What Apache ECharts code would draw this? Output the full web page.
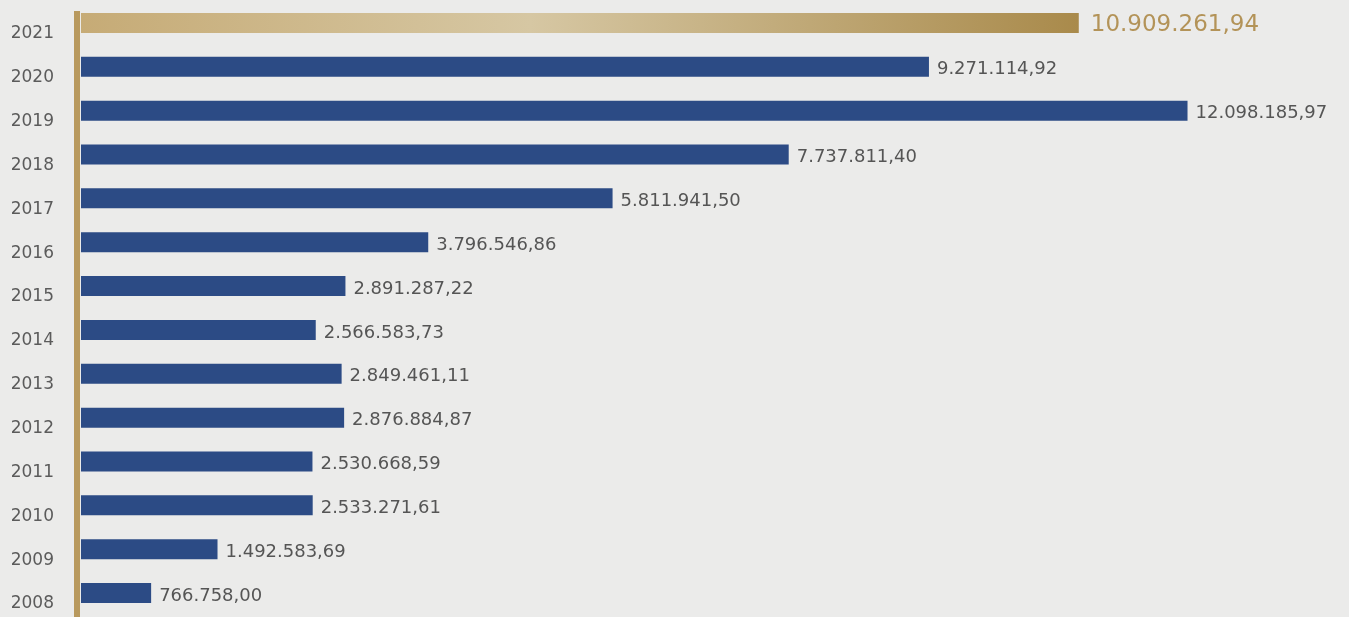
<!DOCTYPE html>
<html>
<head>
<meta charset="utf-8">
<script src="https://cdn.jsdelivr.net/npm/echarts@6/dist/echarts.min.js"></script>
<style>
  html, body { margin: 0; padding: 0; background: #ebebea; }
  #chart { width: 1349px; height: 617px; }
</style>
</head>
<body>
<div id="chart"></div>
<script>
// Yearly totals, newest year first
const years = ['2021', '2020', '2019', '2018', '2017', '2016', '2015', '2014', '2013', '2012', '2011', '2010', '2009', '2008'];
const totals = [10909261.94, 9271114.92, 12098185.97, 7737811.40, 5811941.50, 3796546.86, 2891287.22, 2566583.73, 2849461.11, 2876884.87, 2530668.59, 2533271.61, 1492583.69, 766758.00];
const highlightYear = '2021';

// 10909261.94 -> "10.909.261,94"
function formatAmount(v) {
  const parts = v.toFixed(2).split('.');
  const whole = parts[0].replace(/\B(?=(\d{3})+(?!\d))/g, '.');
  return whole + ',' + parts[1];
}

const goldGradient = new echarts.graphic.LinearGradient(0, 0, 1, 0, [
  { offset: 0, color: '#c6ab76' },
  { offset: 0.45, color: '#d6c7a3' },
  { offset: 1, color: '#a98a4b' }
]);

const barData = years.map((y, i) => {
  if (y === highlightYear) {
    return {
      value: totals[i],
      itemStyle: { color: goldGradient },
      label: { fontSize: 23, color: '#b39358', distance: 12, offset: [0, 2] }
    };
  }
  return { value: totals[i] };
});

const chart = echarts.init(document.getElementById('chart'));
chart.setOption({
  backgroundColor: '#ebebea',
  animation: false,
  grid: { left: 81, right: 79, top: 1, bottom: 2, containLabel: false },
  xAxis: {
    type: 'value',
    min: 0,
    max: 13000000,
    show: false
  },
  yAxis: {
    type: 'category',
    data: years,
    inverse: true,
    axisLine: { show: false },
    axisTick: { show: false },
    axisLabel: {
      margin: 27,
      fontFamily: 'DejaVu Sans',
      fontSize: 17,
      color: '#5b5b5b',
      verticalAlign: 'top',
      lineHeight: 22
    }
  },
  series: [{
    type: 'bar',
    data: barData,
    barWidth: 20,
    itemStyle: { color: '#2c4b85' },
    label: {
      show: true,
      position: 'right',
      distance: 8,
      offset: [0, 3],
      fontFamily: 'DejaVu Sans',
      fontSize: 18,
      color: '#555555',
      formatter: p => formatAmount(p.value)
    }
  }],
  graphic: [{
    type: 'rect',
    left: 74,
    top: 11,
    shape: { width: 6, height: 606 },
    style: { fill: '#b8995e' },
    z: 10
  }]
});
</script>
</body>
</html>
